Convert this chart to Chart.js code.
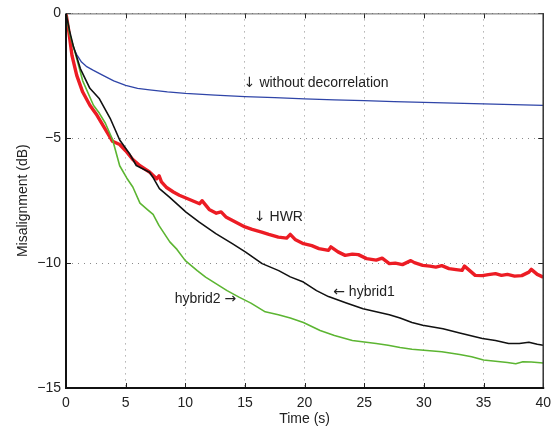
<!DOCTYPE html>
<html>
<head>
<meta charset="utf-8">
<script src="https://cdn.jsdelivr.net/npm/chart.js@4.4.1/dist/chart.umd.min.js"></script>
<style>
  body { margin: 0; background: #fff; }
  #wrap { width: 558px; height: 430px; }
</style>
</head>
<body>
<div id="wrap"><canvas id="chart" width="558" height="430"></canvas></div>
<script>
// time (s) and misalignment (dB)
const blueT = [0, 0.2, 0.4, 0.9, 1.3, 1.7, 2.3, 3.1, 4, 5, 6, 7, 8.5, 10, 12.5, 15, 17.5, 20, 22.5, 25, 27.5, 30, 32.5, 35, 37.5, 40];
const blueV = [0, -0.6, -1.15, -1.65, -1.95, -2.12, -2.28, -2.48, -2.7, -2.88, -3.0, -3.06, -3.14, -3.2, -3.27, -3.33, -3.37, -3.42, -3.46, -3.49, -3.53, -3.56, -3.59, -3.62, -3.65, -3.68];

const redT = [0, 0.2, 0.5, 0.9, 1.4, 2, 2.6, 3.1, 3.9, 4.5, 5, 5.6, 6.2, 7, 7.6, 7.8, 8, 8.4, 9, 9.5, 10, 10.6, 11.2, 11.4, 12, 12.6, 13, 13.4, 14, 15, 15.6, 16.4, 17, 17.8, 18.5, 18.8, 19.2, 19.9, 20.6, 21.2, 22, 22.2, 22.8, 23.4, 24, 24.5, 25.2, 26, 26.5, 27.1, 27.6, 28.2, 28.9, 29.2, 29.9, 30.5, 31, 31.5, 32.1, 32.7, 33.2, 33.4, 34.3, 34.9, 35.4, 36, 36.5, 37, 37.6, 38.2, 38.8, 39, 39.5, 40];
const redV = [0, -0.61, -1.68, -2.48, -3.15, -3.68, -4.08, -4.48, -5.12, -5.25, -5.5, -5.85, -6.1, -6.35, -6.62, -6.5, -6.75, -6.96, -7.15, -7.28, -7.38, -7.5, -7.62, -7.5, -7.85, -8.0, -7.95, -8.15, -8.3, -8.55, -8.65, -8.76, -8.85, -8.96, -9.0, -8.85, -9.05, -9.22, -9.3, -9.42, -9.49, -9.35, -9.55, -9.69, -9.64, -9.66, -9.82, -9.88, -9.8, -10.02, -10.0, -10.06, -9.9, -9.98, -10.09, -10.12, -10.16, -10.1, -10.22, -10.26, -10.29, -10.12, -10.49, -10.5, -10.46, -10.42, -10.49, -10.45, -10.52, -10.5, -10.36, -10.25, -10.45, -10.56];

const blackT = [0, 0.3, 0.6, 1.2, 2, 2.8, 3.7, 4.5, 5.33, 5.89, 7, 7.28, 7.83, 8.67, 10.06, 11.17, 12.56, 13.94, 15.06, 16.44, 17.83, 18.8, 19.9, 21, 22, 23.5, 24.9, 26, 27.1, 28, 29, 29.9, 31.6, 33, 34.9, 36, 37.1, 38, 38.8, 39.5, 40];
const blackV = [0, -0.7, -1.28, -2.21, -3.0, -3.42, -4.2, -5.07, -5.62, -6.09, -6.36, -6.56, -7.02, -7.36, -7.96, -8.36, -8.82, -9.22, -9.56, -10.02, -10.3, -10.55, -10.76, -11.1, -11.34, -11.6, -11.83, -11.95, -12.07, -12.2, -12.38, -12.49, -12.63, -12.8, -13.02, -13.1, -13.22, -13.22, -13.17, -13.25, -13.29];

const greenT = [0, 0.3, 0.75, 1.4, 2.3, 2.8, 3.3, 3.9, 4.5, 5.1, 5.6, 6.2, 6.8, 7.3, 7.8, 8.7, 9.3, 10, 11, 11.7, 12.5, 13.5, 14.5, 15.5, 16.7, 17.8, 18.8, 19.9, 21.3, 22.5, 24, 25, 26, 27, 28, 29, 30, 31.5, 33, 34, 35, 36, 37, 37.7, 38.3, 39, 40];
const greenV = [0, -0.8, -1.55, -2.7, -3.68, -4.0, -4.4, -5.05, -6.1, -6.6, -6.95, -7.6, -7.85, -8.05, -8.5, -9.15, -9.45, -9.9, -10.3, -10.56, -10.8, -11.1, -11.36, -11.6, -11.95, -12.07, -12.2, -12.38, -12.7, -12.9, -13.1, -13.16, -13.22, -13.29, -13.38, -13.45, -13.49, -13.55, -13.66, -13.75, -13.88, -13.93, -13.98, -14.03, -13.95, -13.96, -14.0];

const xTicks = [0, 5, 10, 15, 20, 25, 30, 35, 40];
const yTicks = [0, -5, -10, -15];

// in-plot text labels, anchored in data units
const noteText = ['\u2193 without decorrelation', '\u2193 HWR', '\u2190 hybrid1', 'hybrid2 \u2192'];
const noteX = [14.9, 15.75, 22.4, 14.27];
const noteY = [-2.8, -8.16, -11.18, -11.45];
const noteAlign = ['left', 'left', 'left', 'right'];

const pts = (ts, vs) => ts.map((t, i) => ({ x: t, y: vs[i] }));
const FONT = "'Liberation Sans', Arial, Helvetica, sans-serif";
const ARROW_FONT = "'DejaVu Sans', sans-serif";
const FS = 14;
const ink = '#222';

// draws a label, arrows in a font that has full-size arrow glyphs
function drawNote(ctx, s, x, y, align) {
  const runs = s.split(/([\u2190-\u2193])/).filter(r => r.length);
  const fontOf = r => (/[\u2190-\u2193]/.test(r) ? FS + 'px ' + ARROW_FONT : FS + 'px ' + FONT);
  const widths = runs.map(r => { ctx.font = fontOf(r); return ctx.measureText(r).width; });
  const total = widths.reduce((a, b) => a + b, 0);
  let cx = align === 'right' ? x - total : x;
  ctx.textAlign = 'left';
  runs.forEach((r, i) => {
    ctx.font = fontOf(r);
    ctx.fillText(r, cx, y);
    cx += widths[i];
  });
}

const framePlugin = {
  id: 'frame',
  afterDraw(chart) {
    const { ctx, chartArea: a, scales } = chart;
    const sx = scales.x, sy = scales.y;
    ctx.save();
    // inward ticks
    ctx.strokeStyle = '#222';
    ctx.lineWidth = 1;
    ctx.beginPath();
    xTicks.forEach(t => {
      const px = Math.round(sx.getPixelForValue(t)) + 0.5;
      ctx.moveTo(px, a.bottom); ctx.lineTo(px, a.bottom - 5);
      ctx.moveTo(px, a.top); ctx.lineTo(px, a.top + 5);
    });
    yTicks.forEach(v => {
      const py = Math.round(sy.getPixelForValue(v)) + 0.5;
      ctx.moveTo(a.left, py); ctx.lineTo(a.left + 5, py);
      ctx.moveTo(a.right, py); ctx.lineTo(a.right - 5, py);
    });
    ctx.stroke();
    // box
    ctx.lineWidth = 1;
    ctx.strokeStyle = '#666';
    ctx.beginPath();
    ctx.moveTo(a.left, a.top + 0.5); ctx.lineTo(a.right, a.top + 0.5);
    ctx.stroke();
    ctx.lineWidth = 1.5;
    ctx.strokeStyle = '#333';
    ctx.beginPath();
    ctx.moveTo(a.right, a.top); ctx.lineTo(a.right, a.bottom);
    ctx.stroke();
    ctx.lineWidth = 2;
    ctx.strokeStyle = '#111';
    ctx.beginPath();
    ctx.moveTo(a.left, a.top); ctx.lineTo(a.left, a.bottom); ctx.lineTo(a.right + 1, a.bottom);
    ctx.stroke();
    // labels
    ctx.fillStyle = ink;
    ctx.textBaseline = 'middle';
    noteText.forEach((s, i) => {
      drawNote(ctx, s, sx.getPixelForValue(noteX[i]), sy.getPixelForValue(noteY[i]), noteAlign[i]);
    });
    ctx.restore();
  }
};

new Chart(document.getElementById('chart'), {
  type: 'line',
  data: {
    datasets: [
      { label: 'hybrid1', data: pts(blackT, blackV), borderColor: '#111', borderWidth: 1.6 },
      { label: 'hybrid2', data: pts(greenT, greenV), borderColor: '#5cb532', borderWidth: 1.6 },
      { label: 'HWR', data: pts(redT, redV), borderColor: '#ec1c24', borderWidth: 3.4 },
      { label: 'without decorrelation', data: pts(blueT, blueV), borderColor: '#2f45a8', borderWidth: 1.3 }
    ]
  },
  options: {
    responsive: false,
    animation: false,
    events: [],
    elements: { point: { radius: 0 }, line: { tension: 0, borderJoinStyle: 'round' } },
    layout: { padding: { top: 12, right: 13, left: 0, bottom: 0 } },
    plugins: { legend: { display: false }, tooltip: { enabled: false } },
    scales: {
      x: {
        type: 'linear',
        min: 0,
        max: 40,
        afterFit: s => { s.height = 42; },
        afterBuildTicks: s => { s.ticks = xTicks.map(v => ({ value: v })); },
        ticks: { color: ink, font: { size: FS, family: FONT }, padding: 7, maxRotation: 0 },
        grid: { color: '#8a8a8a', lineWidth: 1, drawTicks: false },
        border: { display: false, dash: [1, 5] },
        title: { display: true, text: 'Time (s)', color: ink, font: { size: FS, family: FONT }, padding: { top: 0, bottom: 2 } }
      },
      y: {
        min: -15,
        max: 0,
        afterFit: s => { s.width = 66; },
        afterBuildTicks: s => { s.ticks = yTicks.map(v => ({ value: v })); },
        ticks: {
          color: ink,
          font: { size: FS, family: FONT },
          padding: 5,
          callback: v => (v < 0 ? '\u2212' + Math.abs(v) : String(v))
        },
        grid: { color: '#8a8a8a', lineWidth: 1, drawTicks: false },
        border: { display: false, dash: [1, 5] },
        title: { display: true, text: 'Misalignment (dB)', color: ink, font: { size: FS, family: FONT }, padding: { top: 15, bottom: 0 } }
      }
    }
  },
  plugins: [framePlugin]
});
</script>
</body>
</html>
